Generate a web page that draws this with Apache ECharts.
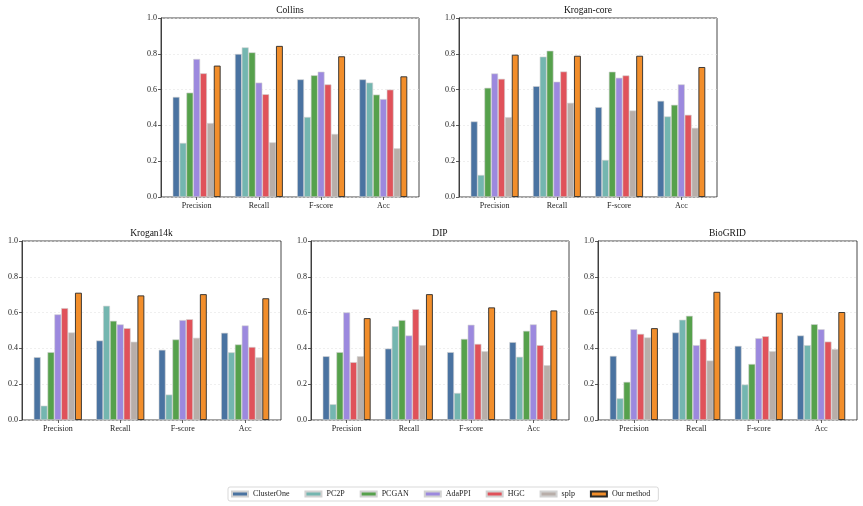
<!DOCTYPE html>
<html>
<head>
<meta charset="utf-8">
<script src="https://cdn.jsdelivr.net/npm/echarts@6/dist/echarts.min.js"></script>
<style>
html,body{margin:0;padding:0;background:#fff;}
#chart{width:863px;height:506px;}
</style>
</head>
<body>
<div id="chart"></div>
<script>
const metrics = ['Precision', 'Recall', 'F-score', 'Acc'];
const methods = ['ClusterOne', 'PC2P', 'PCGAN', 'AdaPPI', 'HGC', 'splp', 'Our method'];
const datasets = ['Collins', 'Krogan-core', 'Krogan14k', 'DIP', 'BioGRID'];
const yTicks = [0, 0.2, 0.4, 0.6, 0.8, 1.0];

// rows: methods, columns: metrics
const collins = [
  [0.559, 0.799, 0.657, 0.657],
  [0.302, 0.836, 0.447, 0.639],
  [0.583, 0.808, 0.680, 0.572],
  [0.771, 0.639, 0.700, 0.547],
  [0.691, 0.574, 0.629, 0.600],
  [0.413, 0.305, 0.352, 0.272],
  [0.734, 0.844, 0.786, 0.674]
];
const kroganCore = [
  [0.422, 0.619, 0.502, 0.537],
  [0.123, 0.784, 0.207, 0.450],
  [0.610, 0.817, 0.700, 0.515],
  [0.690, 0.644, 0.666, 0.629],
  [0.660, 0.701, 0.679, 0.459],
  [0.446, 0.526, 0.483, 0.386],
  [0.795, 0.789, 0.789, 0.726]
];
const krogan14k = [
  [0.351, 0.444, 0.392, 0.487],
  [0.080, 0.638, 0.142, 0.378],
  [0.379, 0.554, 0.450, 0.422],
  [0.590, 0.534, 0.558, 0.528],
  [0.625, 0.513, 0.563, 0.408],
  [0.489, 0.437, 0.459, 0.350],
  [0.711, 0.696, 0.703, 0.680]
];
const dip = [
  [0.356, 0.399, 0.379, 0.435],
  [0.088, 0.524, 0.151, 0.353],
  [0.379, 0.558, 0.453, 0.498],
  [0.601, 0.472, 0.532, 0.534],
  [0.323, 0.619, 0.425, 0.418],
  [0.356, 0.418, 0.384, 0.306],
  [0.569, 0.703, 0.629, 0.612]
];
const biogrid = [
  [0.358, 0.489, 0.414, 0.472],
  [0.121, 0.560, 0.198, 0.418],
  [0.213, 0.582, 0.313, 0.535],
  [0.507, 0.418, 0.457, 0.507],
  [0.481, 0.453, 0.468, 0.438],
  [0.461, 0.332, 0.384, 0.396],
  [0.513, 0.716, 0.599, 0.603]
];
const allData = [collins, kroganCore, krogan14k, dip, biogrid];

const colors = ['#4a73a1', '#74b6b0', '#56a14c', '#9c89de', '#e0525a', '#b8aea9', '#f28e2b'];
const FONT = '"Liberation Serif", "Times New Roman", serif';

// panel frames [left, top, width, height]
const frames = [
  [161, 18, 258, 179],
  [459, 18, 258, 179],
  [22, 241, 259, 179],
  [311, 241, 258, 179],
  [598, 241, 259, 179]
];

const grids = [], xAxes = [], yAxes = [], titles = [], series = [];
frames.forEach((f, p) => {
  const [L, T, W, H] = f;
  const s = W / 4.147;          // category spacing (matplotlib margins)
  const inset = 0.0735 * s;
  // frame grid
  grids.push({ left: L, top: T, width: W, height: H, show: true, borderColor: '#333', borderWidth: 0.9, backgroundColor: 'transparent' });
  // bar grid
  grids.push({ left: L + inset, top: T, width: W - 2 * inset, height: H, show: false });
  const gi = p * 2;
  xAxes.push({ gridIndex: gi, type: 'value', min: 0, max: 1, show: false });
  yAxes.push({
    gridIndex: gi, type: 'value', min: 0, max: 1, interval: 0.2,
    axisLine: { show: true, lineStyle: { color: '#333', width: 0.9 } },
    axisTick: { show: true, length: 3, lineStyle: { color: '#333', width: 0.8 } },
    axisLabel: { fontFamily: FONT, fontSize: 8, color: '#222', margin: 4, formatter: v => v.toFixed(1) },
    splitLine: { show: true, lineStyle: { color: '#e4e4e4', width: 0.6, type: [2, 2] } }
  });
  xAxes.push({
    gridIndex: gi + 1, type: 'category', data: metrics,
    axisLine: { show: false },
    axisTick: { show: true, alignWithLabel: true, length: 3, lineStyle: { color: '#333', width: 0.8 } },
    axisLabel: { fontFamily: FONT, fontSize: 8, color: '#222', margin: 5 }
  });
  yAxes.push({ gridIndex: gi + 1, type: 'value', min: 0, max: 1, show: false, splitLine: { show: false } });
  titles.push({
    text: datasets[p], left: L + W / 2, top: T - 13, textAlign: 'center', padding: 0,
    textStyle: { fontFamily: FONT, fontSize: 9.5, fontWeight: 'normal', color: '#111' }
  });
  methods.forEach((m, k) => {
    const isOurs = k === methods.length - 1;
    series.push({
      name: m, type: 'bar', xAxisIndex: p * 2 + 1, yAxisIndex: p * 2 + 1,
      data: allData[p][k],
      barGap: '0%', barCategoryGap: '23%',
      itemStyle: {
        color: colors[k],
        borderColor: isOurs ? '#2a2a2a' : '#d2d2d2',
        borderWidth: isOurs ? 0.9 : 0.6
      },
      emphasis: { disabled: true },
      animation: false
    });
  });
});

const chart = echarts.init(document.getElementById('chart'), null, { renderer: 'canvas' });
chart.setOption({
  backgroundColor: '#fff',
  animation: false,
  title: titles,
  grid: grids,
  xAxis: xAxes,
  yAxis: yAxes,
  legend: {
    data: methods, left: 228, top: 487,
    padding: [3, 8, 3, 3], itemGap: 15, itemWidth: 16, itemHeight: 5,
    icon: 'rect',
    borderColor: '#cfcfcf', borderWidth: 0.8, borderRadius: 2,
    textStyle: { fontFamily: FONT, fontSize: 8, color: '#222' },
    selectedMode: false
  },
  series: series
});
</script>
</body>
</html>
